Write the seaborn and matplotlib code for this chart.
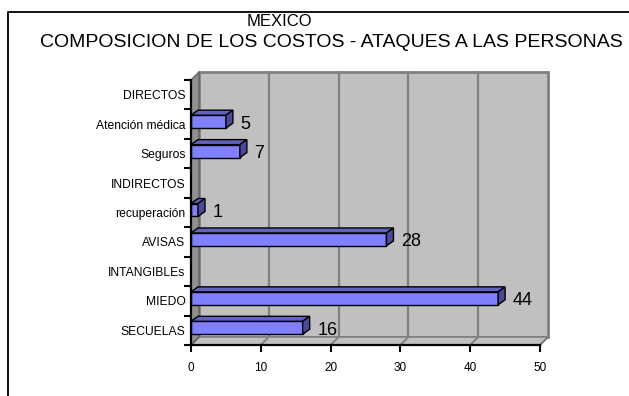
import numpy as np
import pandas as pd
import matplotlib
matplotlib.use("Agg")
import matplotlib.pyplot as plt
import seaborn as sns
from matplotlib.patches import Polygon
from matplotlib.lines import Line2D

# ---- data ----
categories = ["DIRECTOS", "Atención médica", "Seguros", "INDIRECTOS", "recuperación",
              "AVISAS", "INTANGIBLEs", "MIEDO", "SECUELAS"]
values = [None, 5, 7, None, 1, 28, None, 44, 16]
x_ticks = [0, 10, 20, 30, 40, 50]
title_main = "MEXICO"
title_sub = "COMPOSICION DE LOS COSTOS - ATAQUES A LAS PERSONAS"

sns.set_theme(style="white")
plt.rcParams["font.family"] = ["Liberation Sans", "DejaVu Sans"]

W, H = 629, 396
fig = plt.figure(figsize=(W / 100, H / 100), dpi=100)
L, R, T, B = 191, 540, 80, 345
ax = fig.add_axes([L / W, 1 - B / H, (R - L) / W, (B - T) / H])
ax.set_facecolor("none")

n = len(categories)
xmax = x_ticks[-1]
px_x = (R - L) / xmax
px_y = (B - T) / n
DX, DY = 8 / px_x, 8 / px_y          # depth of the 3D walls
bdx, bdy = 7 / px_x, 5 / px_y        # depth of the bars
y0, y1 = -0.5, n - 0.5

df = pd.DataFrame({"cat": categories, "val": values}).dropna()
sns.barplot(data=df, x="val", y="cat", order=categories, orient="h",
            color="#8080ff", saturation=1, edgecolor="black", linewidth=1,
            width=0.44, errorbar=None, ax=ax, zorder=3)
bars = list(ax.patches)
ax.set_xlabel("")
ax.set_ylabel("")
ax.set_xlim(0, xmax)
ax.set_ylim(y1, y0)

# back wall
ax.add_patch(Polygon([(DX, y0 - DY), (xmax + DX, y0 - DY), (xmax + DX, y1 - DY), (DX, y1 - DY)],
                     closed=True, fc="#c0c0c0", ec="#808080", lw=2, zorder=0.1, clip_on=False))
for xt in x_ticks[1:-1]:
    ax.plot([xt + DX, xt + DX], [y0 - DY, y1 - DY], color="#808080", lw=1.6,
            zorder=0.2, clip_on=False)
# floor
ax.add_patch(Polygon([(0, y1), (xmax, y1), (xmax + DX, y1 - DY), (DX, y1 - DY)],
                     closed=True, fc="#c0c0c0", ec="#808080", lw=1.2, zorder=0.3, clip_on=False))
for xt in x_ticks:
    ax.plot([xt, xt + DX], [y1, y1 - DY], color="#808080", lw=1.4, zorder=0.35, clip_on=False)
# left wall
ax.add_patch(Polygon([(0, y0), (DX, y0 - DY), (DX, y1 - DY), (0, y1)],
                     closed=True, fc="#909090", ec="#606060", lw=1, zorder=0.4, clip_on=False))

# 3D faces of bars
for p in bars:
    w = p.get_width()
    if not np.isfinite(w) or w <= 0:
        continue
    p.set_y(p.get_y() - 2.5 / px_y)
    yt = p.get_y()
    yb = yt + p.get_height()
    ax.add_patch(Polygon([(0, yt), (w, yt), (w + bdx, yt - bdy), (bdx, yt - bdy)],
                         closed=True, fc="#6262c4", ec="black", lw=1, zorder=3.1))
    ax.add_patch(Polygon([(w, yt), (w, yb), (w + bdx, yb - bdy), (w + bdx, yt - bdy)],
                         closed=True, fc="#4a4a96", ec="black", lw=1, zorder=3.1))

# data labels
for cat, v in zip(df["cat"], df["val"]):
    ax.annotate(f"{int(v)}", (v, categories.index(cat)), xytext=(10.5, 0),
                textcoords="offset points", ha="left", va="center",
                fontsize=13, color="black", zorder=5)

# axes styling
for s in ["top", "right"]:
    ax.spines[s].set_visible(False)
for s in ["left", "bottom"]:
    ax.spines[s].set_color("black")
    ax.spines[s].set_linewidth(1.6)
    ax.spines[s].set_zorder(4)
ax.set_xticks(x_ticks)
ax.set_xticklabels([str(t) for t in x_ticks])
ax.tick_params(axis="x", bottom=True, direction="out", length=5, width=1.5,
               color="black", labelsize=8.5, pad=7, labelcolor="black")
ax.set_yticks(range(n))
ax.set_yticklabels(categories)
ax.tick_params(axis="y", which="major", left=True, length=0, pad=4,
               labelsize=8.7, labelcolor="black")
ax.set_yticks(np.arange(y0, y1 + 0.01, 1), minor=True)
ax.tick_params(axis="y", which="minor", left=True, length=5, width=1.5,
               direction="out", color="black")

# titles
fig.text(279.5 / W, 1 - 26 / H, title_main, ha="center", va="baseline", fontsize=12, color="black")
fig.text(40 / W, 1 - 47 / H, title_sub, ha="left", va="baseline", fontsize=14, color="black")

# chart-area border (right/bottom edges fall outside the picture)
fig.add_artist(Line2D([8 / W, 8 / W, 1.02], [-0.02, 1 - 12 / H, 1 - 12 / H],
                      color="black", lw=1.3, transform=fig.transFigure))

fig.savefig("out.png", dpi=100)
